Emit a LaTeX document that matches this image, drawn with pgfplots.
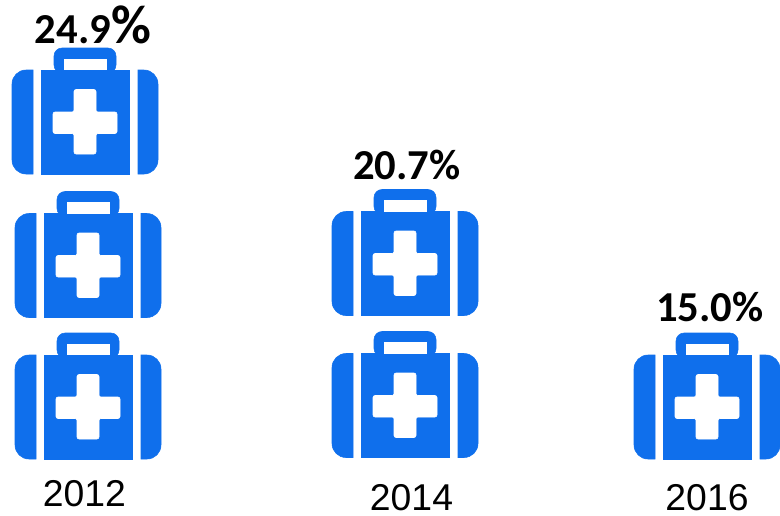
\documentclass[border=0pt]{standalone}
\usepackage{pgfplots}
\pgfplotsset{compat=1.18}
\usepackage{fontspec}
\setmainfont{Liberation Sans}
\newfontfamily\calibri{Carlito}
\definecolor{kitblue}{HTML}{0F6FEC}
\newcommand{\bigpct}{{\fontsize{41}{41}\selectfont\%}}
% one icon, 146 x 126 px round its centre
\pgfdeclareplotmark{medkit}{%
  \begin{scope}[x=0.75pt,y=0.75pt]
    \fill[kitblue] (-52,-63) -- (-59,-63) arc[start angle=270,end angle=180,radius=14] -- (-73,27) arc[start angle=180,end angle=90,radius=14] -- (-52,41) -- cycle;
    \fill[kitblue] (53,-63) -- (59,-63) arc[start angle=-90,end angle=0,radius=14] -- (73,27) arc[start angle=0,end angle=90,radius=14] -- (53,41) -- cycle;
    \fill[kitblue] (-44,-63) rectangle (44,41);
    \fill[kitblue,rounded corners=6pt] (-31,38) -- (-31,63) -- (31,63) -- (31,38) -- cycle;
    \fill[white] (-21,52) rectangle (21,41.5);
    \fill[white,rounded corners=1.5pt] (-11,21.5) -- (11,21.5) -- (11,-1) -- (32,-1) -- (32,-22.5) -- (11,-22.5) -- (11,-43) -- (-11,-43) -- (-11,-22.5) -- (-32,-22.5) -- (-32,-1) -- (-11,-1) -- cycle;
  \end{scope}%
}
\begin{document}
\begin{tikzpicture}
\useasboundingbox (0,0) rectangle (585pt,386.25pt);
\begin{axis}[
    scale only axis,
    width=585pt,height=386.25pt,
    xmin=0,xmax=780,ymin=0,ymax=515,
    y dir=reverse,
    hide axis,
    clip=false,
]
% icons
\addplot[only marks,mark=medkit] coordinates {
    (85,111) (88,254.5) (88,396)
    (405,252.5) (405,394.5)
    (707,396)
};
% percentages
\addplot[
    draw=none,mark=none,
    nodes near coords,
    point meta=explicit symbolic,
    every node near coord/.append style={anchor=center,inner sep=0pt,font=\calibri\bfseries\fontsize{32}{32}\selectfont},
] coordinates {
    (93,25) [24.9\bigpct]
    (407,165) [20.7\%]
    (710,307) [15.0\%]
};
% years
\addplot[
    draw=none,mark=none,
    nodes near coords,
    point meta=explicit symbolic,
    every node near coord/.append style={anchor=center,inner sep=0pt,font=\fontsize{28}{28}\selectfont},
] coordinates {
    (84.5,494) [2012]
    (411.5,498) [2014]
    (707,498) [2016]
};
\end{axis}
\end{tikzpicture}
\end{document}
